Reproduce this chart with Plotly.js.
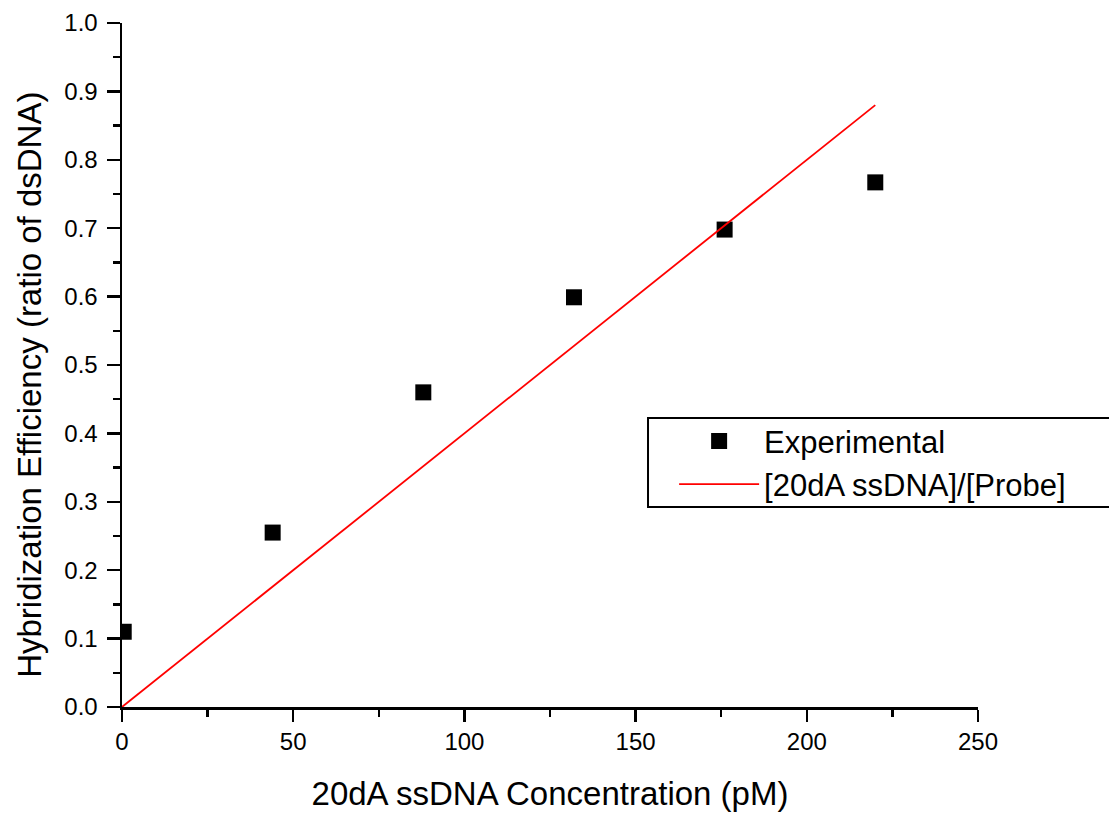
<!DOCTYPE html>
<html>
<head>
<meta charset="utf-8">
<script src="https://cdn.plot.ly/plotly-3.0.1.min.js"></script>
<style>html,body{margin:0;padding:0;background:#fff;}#chart{width:1109px;height:816px;}</style>
</head>
<body>
<div id="chart"></div>
<script>
// Data
const concentration = [0.5, 44, 88, 132, 176, 220];
const efficiency = [0.11, 0.255, 0.46, 0.599, 0.698, 0.767];
const ratioX = [0, 220];
const ratioY = [0, 0.88];
const xTicks = [0, 50, 100, 150, 200, 250];
const yTicks = [0.0, 0.1, 0.2, 0.3, 0.4, 0.5, 0.6, 0.7, 0.8, 0.9, 1.0];
const xTitle = '20dA ssDNA Concentration (pM)';
const yTitle = 'Hybridization Efficiency (ratio of dsDNA)';

const FONT = '"Liberation Sans", Arial, sans-serif';

const traces = [
  {
    x: concentration, y: efficiency, type: 'scatter', mode: 'markers',
    name: 'Experimental',
    marker: {symbol: 'square', size: 16, color: '#000000', line: {width: 0}}
  },
  {
    x: ratioX, y: ratioY, type: 'scatter', mode: 'lines',
    name: '[20dA ssDNA]/[Probe]',
    line: {color: '#ff0000', width: 1.8}
  }
];

const layout = {
  width: 1109, height: 816,
  margin: {l: 122, r: 131, t: 23, b: 109},
  paper_bgcolor: '#ffffff', plot_bgcolor: '#ffffff',
  font: {family: FONT, color: '#000000'},
  showlegend: true,
  legend: {
    x: 0.645, y: 0.428, xanchor: 'left', yanchor: 'top',
    bgcolor: 'rgba(0,0,0,0)', borderwidth: 0,
    font: {family: FONT, size: 31, color: '#000000'},
    itemwidth: 80, tracegroupgap: 0
  },
  xaxis: {
    range: [0, 250], tickmode: 'array', tickvals: xTicks, ticktext: xTicks.map(String),
    showgrid: false, zeroline: false, showline: true, linecolor: '#000000', linewidth: 2.5,
    ticks: 'outside', ticklen: 12, tickwidth: 2.5, tickcolor: '#000000',
    tickfont: {family: FONT, size: 24, color: '#000000'},
    minor: {dtick: 25, ticks: 'outside', ticklen: 7, tickwidth: 2.5, tickcolor: '#000000', showgrid: false},
    title: {text: xTitle, font: {family: FONT, size: 33, color: '#000000'}, standoff: 28}
  },
  yaxis: {
    range: [0, 1.0], tickmode: 'array', tickvals: yTicks, ticktext: yTicks.map(v => v.toFixed(1)),
    showgrid: false, zeroline: false, showline: true, linecolor: '#000000', linewidth: 2.5,
    ticks: 'outside', ticklen: 13, tickwidth: 2.5, tickcolor: '#000000',
    ticklabelstandoff: 4,
    tickfont: {family: FONT, size: 24, color: '#000000'},
    minor: {dtick: 0.05, ticks: 'outside', ticklen: 7, tickwidth: 2.5, tickcolor: '#000000', showgrid: false}
  },
  annotations: [
    {text: yTitle, xref: 'paper', yref: 'paper', x: -0.1075, y: 0.471,
     xanchor: 'center', yanchor: 'middle', textangle: -90, showarrow: false,
     font: {family: FONT, size: 33, color: '#000000'}}
  ],
  shapes: [
    {type: 'rect', xref: 'paper', yref: 'paper', x0: 0.6145, x1: 1.16, y0: 0.2924, y1: 0.4225,
     line: {color: '#000000', width: 2}, fillcolor: 'rgba(0,0,0,0)', layer: 'above'}
  ]
};

Plotly.newPlot('chart', traces, layout, {displayModeBar: false, staticPlot: true});
</script>
</body>
</html>
